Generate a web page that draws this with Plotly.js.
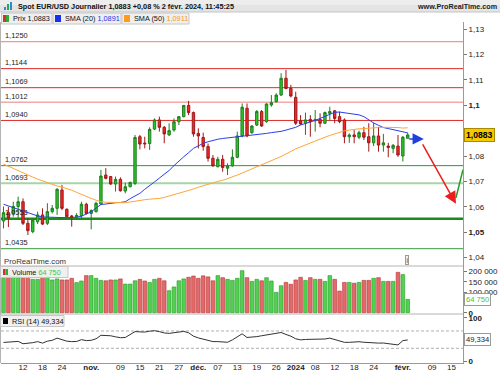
<!DOCTYPE html>
<html><head><meta charset="utf-8">
<script src="https://cdn.plot.ly/plotly-3.0.1.min.js"></script>
<style>html,body{margin:0;padding:0;background:#fff;overflow:hidden}#chart{width:500px;height:375px}</style>
</head><body><div id="chart"></div>
<script>
// ---------- DATA ----------
const dates = [
"2023-10-06","2023-10-09","2023-10-10","2023-10-11","2023-10-12","2023-10-13","2023-10-16","2023-10-17","2023-10-18","2023-10-19",
"2023-10-20","2023-10-23","2023-10-24","2023-10-25","2023-10-26","2023-10-27","2023-10-30","2023-10-31",
"2023-11-01","2023-11-02","2023-11-03","2023-11-06","2023-11-07","2023-11-08","2023-11-09","2023-11-10","2023-11-13","2023-11-14",
"2023-11-15","2023-11-16","2023-11-17","2023-11-20","2023-11-21","2023-11-22","2023-11-23","2023-11-24","2023-11-27","2023-11-28",
"2023-11-29","2023-11-30",
"2023-12-01","2023-12-04","2023-12-05","2023-12-06","2023-12-07","2023-12-08","2023-12-11","2023-12-12","2023-12-13","2023-12-14",
"2023-12-15","2023-12-18","2023-12-19","2023-12-20","2023-12-21","2023-12-22","2023-12-26","2023-12-27","2023-12-28","2023-12-29",
"2024-01-02","2024-01-03","2024-01-04","2024-01-05","2024-01-08","2024-01-09","2024-01-10","2024-01-11","2024-01-12","2024-01-15",
"2024-01-16","2024-01-17","2024-01-18","2024-01-19","2024-01-22","2024-01-23","2024-01-24","2024-01-25","2024-01-26","2024-01-29",
"2024-01-30","2024-01-31","2024-02-01","2024-02-02"];
const futureDates = ["2024-02-05","2024-02-06","2024-02-07","2024-02-08","2024-02-09","2024-02-12","2024-02-13","2024-02-14","2024-02-15","2024-02-16","2024-02-19"];

const open = [
1.0544,1.0577,1.0574,1.0601,1.0620,1.0535,1.0502,1.0541,1.0568,1.0535,
1.0581,1.0594,1.0666,1.0590,1.0564,1.0561,1.0565,1.0610,1.0574,1.0581,
1.0611,1.0725,1.0719,1.0690,1.0708,1.0662,1.0679,1.0692,1.0876,1.0851,
1.0849,1.0906,1.0942,1.0913,1.0883,1.0902,1.0935,1.0955,1.0999,1.0971,
1.0889,1.0873,1.0837,1.0791,1.0758,1.0787,1.0752,1.0761,1.0795,1.0879,
1.0988,1.0892,1.0922,1.0975,1.0935,1.1001,1.1014,1.1040,1.1106,1.1066,
1.1031,1.0938,1.0929,1.0944,1.0939,1.0944,1.0929,1.0968,1.0978,1.0955,
1.0942,1.0876,1.0883,1.0874,1.0892,1.0876,1.0852,1.0879,1.0843,1.0839,
1.0830,1.0839,1.0800,1.0870];
const high = [
1.0601,1.0600,1.0620,1.0640,1.0633,1.0555,1.0555,1.0581,1.0594,1.0614,
1.0607,1.0673,1.0686,1.0594,1.0568,1.0575,1.0620,1.0616,1.0590,1.0620,
1.0745,1.0752,1.0721,1.0719,1.0716,1.0695,1.0699,1.0883,1.0883,1.0876,
1.0913,1.0948,1.0955,1.0918,1.0929,1.0948,1.0957,1.1001,1.1017,1.0975,
1.0909,1.0892,1.0849,1.0804,1.0797,1.0804,1.0771,1.0826,1.0896,1.1007,
1.1007,1.0922,1.0981,1.0981,1.1007,1.1040,1.1047,1.1126,1.1139,1.1080,
1.1053,1.0961,1.0971,1.0961,1.0981,1.0968,1.0975,1.0994,1.0981,1.0975,
1.0948,1.0889,1.0902,1.0900,1.0915,1.0929,1.0931,1.0915,1.0887,1.0852,
1.0847,1.0883,1.0879,1.0892];
const low = [
1.0515,1.0520,1.0561,1.0548,1.0528,1.0489,1.0496,1.0532,1.0528,1.0528,
1.0574,1.0568,1.0587,1.0559,1.0522,1.0548,1.0555,1.0570,1.0511,1.0577,
1.0607,1.0708,1.0686,1.0660,1.0660,1.0653,1.0677,1.0686,1.0826,1.0830,
1.0824,1.0902,1.0896,1.0850,1.0879,1.0896,1.0922,1.0952,1.0961,1.0876,
1.0830,1.0821,1.0778,1.0758,1.0755,1.0738,1.0725,1.0758,1.0791,1.0874,
1.0874,1.0887,1.0918,1.0915,1.0931,1.0994,1.1010,1.1036,1.1063,1.1031,
1.0922,1.0922,1.0883,1.0876,1.0896,1.0913,1.0926,1.0942,1.0929,1.0929,
1.0850,1.0852,1.0850,1.0866,1.0863,1.0817,1.0839,1.0817,1.0817,1.0795,
1.0811,1.0797,1.0778,1.0869];
const close = [
1.0577,1.0556,1.0601,1.0620,1.0535,1.0506,1.0548,1.0568,1.0532,1.0581,
1.0594,1.0669,1.0594,1.0561,1.0561,1.0566,1.0610,1.0574,1.0585,1.0614,
1.0721,1.0712,1.0690,1.0708,1.0663,1.0679,1.0696,1.0873,1.0847,1.0848,
1.0905,1.0942,1.0913,1.0887,1.0900,1.0935,1.0955,1.0999,1.0971,1.0887,
1.0879,1.0837,1.0791,1.0761,1.0787,1.0755,1.0761,1.0795,1.0879,1.0992,
1.0879,1.0918,1.0975,1.0918,1.1005,1.1010,1.1040,1.1106,1.1066,1.1036,
1.0929,1.0926,1.0942,1.0935,1.0944,1.0929,1.0971,1.0975,1.0948,1.0935,
1.0876,1.0883,1.0876,1.0892,1.0874,1.0852,1.0879,1.0843,1.0852,1.0834,
1.0842,1.0804,1.0874,1.0883];
const volume = [
167000,183000,178000,180000,167000,172000,162000,162000,172000,175000,
159000,164000,159000,159000,167000,146000,154000,180000,180000,167000,
157000,155000,159000,159000,164000,139000,139000,155000,162000,154000,
147000,162000,167000,155000,107000,125000,155000,164000,172000,178000,
167000,179000,174000,155000,180000,170000,162000,157000,167000,204000,
170000,152000,162000,155000,170000,154000,99000,131000,147000,138000,
159000,172000,157000,170000,162000,162000,152000,180000,162000,105000,
147000,147000,143000,147000,157000,157000,167000,170000,152000,152000,
152000,196000,185000,64750];
const sma20 = [
1.0610,1.0603,1.0597,1.0590,1.0585,1.0578,1.0571,1.0564,1.0560,1.0559,
1.0557,1.0556,1.0557,1.0557,1.0558,1.0559,1.0563,1.0572,1.0580,1.0595,
1.0609,1.0611,1.0614,1.0616,1.0617,1.0620,1.0632,1.0644,1.0653,1.0669,
1.0685,1.0698,1.0713,1.0727,1.0743,1.0762,1.0781,1.0797,1.0813,1.0830,
1.0840,1.0850,1.0856,1.0862,1.0866,1.0869,1.0871,1.0874,1.0875,1.0877,
1.0878,1.0880,1.0883,1.0886,1.0889,1.0892,1.0894,1.0897,1.0902,1.0907,
1.0913,1.0922,1.0927,1.0932,1.0940,1.0948,1.0956,1.0965,1.0972,1.0973,
1.0970,1.0969,1.0967,1.0962,1.0955,1.0941,1.0930,1.0921,1.0912,1.0908,
1.0904,1.0900,1.0896,1.0891];
const sma50 = [
1.0768,1.0759,1.0750,1.0741,1.0733,1.0725,1.0717,1.0709,1.0702,1.0694,
1.0687,1.0682,1.0678,1.0673,1.0665,1.0657,1.0648,1.0640,1.0633,1.0626,
1.0620,1.0618,1.0617,1.0616,1.0616,1.0616,1.0619,1.0623,1.0627,1.0628,
1.0630,1.0631,1.0633,1.0637,1.0642,1.0647,1.0652,1.0657,1.0663,1.0670,
1.0677,1.0683,1.0690,1.0695,1.0700,1.0704,1.0710,1.0717,1.0725,1.0733,
1.0741,1.0749,1.0757,1.0765,1.0773,1.0781,1.0788,1.0798,1.0808,1.0819,
1.0828,1.0836,1.0844,1.0852,1.0861,1.0867,1.0874,1.0881,1.0888,1.0895,
1.0899,1.0902,1.0905,1.0907,1.0908,1.0910,1.0911,1.0912,1.0913,1.0913,
1.0913,1.0912,1.0910,1.0911];
const rsi = [
43.5,44.5,46,46,40.5,41,43,45.5,42,46.5,
48.5,53.5,50,46.5,45.5,45.8,50,47.8,48.5,52,
60,60,59,56.5,54.5,55,61,68.5,68,67.5,
69.5,70.7,68.5,65.5,64.5,65.5,67.5,69,66,58,
54,51.5,48,45.5,45.5,45.5,44,49.5,57.5,63.5,
55,55.5,57,59,60.8,62.5,64.5,66.5,62,58,
52,49.5,50.5,50.8,50.8,50.8,51.5,53.5,50,47.5,
43.8,43.8,44.8,45.2,44,42.8,41.5,42,42.2,40.8,
40.8,37.8,47.7,49.334];

const levelsRed = [1.1250, 1.1144, 1.1069, 1.1012, 1.0940];
const levelsGreen = [1.0762, 1.0693, 1.0553, 1.0435];
const rsiBands = [70, 30];

const priceTicks = [1.04,1.05,1.06,1.07,1.08,1.09,1.10,1.11,1.12,1.13];
const priceTickText = ["1,04","<b>1,05</b>","1,06","1,07","1,08","1,09","<b>1,1</b>","1,11","1,12","1,13"];
const volTicks = [0,100000,150000,200000];
const volTickText = ["<b>0</b>","100 000","150 000","200 000"];
const rsiTicks = [0,100];
const rsiTickText = ["<b>0</b>","<b>100</b>"];
const dateTicks = ["2023-10-12","2023-10-18","2023-10-24","2023-11-01","2023-11-09","2023-11-15","2023-11-21","2023-11-27",
  "2023-12-01","2023-12-07","2023-12-13","2023-12-19","2023-12-26","2024-01-02","2024-01-08","2024-01-12","2024-01-18",
  "2024-01-24","2024-02-01","2024-02-09","2024-02-15"];
const dateTickText = ["12","18","24","<b>nov.</b>","09","15","21","27","<b>déc.</b>","07","13","19","26","<b>2024</b>",
  "08","12","18","24","<b>févr.</b>","09","15"];

const titleText = "Spot EUR/USD Journalier 1,0883 +0,08 % 2 févr. 2024, 11:45:25";
const siteText = "www.ProRealTime.com";
const watermark = "ProRealTime.com";

// ---------- HELPERS ----------
const W = 500, H = 375, ML = 1, MR = 37, MT = 22, MB = 12;
const PW = W - ML - MR, PH = H - MT - MB;
const xp = px => (px - ML) / PW;
const yp = py => (H - MB - py) / PH;
const fmt = (v, d) => v.toFixed(d).replace('.', ',');
const fmtThousands = v => String(Math.round(v)).replace(/\B(?=(\d{3})+(?!\d))/g, ' ');
const FONT = 'Liberation Sans, Arial, sans-serif';
const last = close.length - 1;

const GREEN = '#2ec42e', GREEN_L = '#1f7f1f', RED = '#ee2a2a', RED_L = '#a01818';
const volColors = close.map((c, i) => c >= open[i] ? '#52d052' : '#e36a6a');
const volLines = close.map((c, i) => c >= open[i] ? '#259a25' : '#b53434');

// ---------- TRACES ----------
const traces = [
  {type:'candlestick', x:dates, open:open, high:high, low:low, close:close, xaxis:'x', yaxis:'y',
   increasing:{line:{color:GREEN_L, width:1}, fillcolor:GREEN},
   decreasing:{line:{color:RED_L, width:1}, fillcolor:RED},
   whiskerwidth:0, hoverinfo:'skip', showlegend:false},
  {type:'scatter', mode:'lines', x:dates, y:sma20, xaxis:'x', yaxis:'y', line:{color:'#2a3fe8', width:1}, hoverinfo:'skip'},
  {type:'scatter', mode:'lines', x:dates, y:sma50, xaxis:'x', yaxis:'y', line:{color:'#ffa53a', width:1}, hoverinfo:'skip'},
  {type:'bar', x:dates, y:volume, xaxis:'x', yaxis:'y2', marker:{color:volColors, line:{color:volLines, width:0.6}}, hoverinfo:'skip'},
  {type:'scatter', mode:'lines', x:dates, y:rsi, xaxis:'x', yaxis:'y3', line:{color:'#333', width:1}, hoverinfo:'skip'}
];

// ---------- SHAPES ----------
const shapes = [];
const redStyles = [{c:'#f27a7a',w:1},{c:'#e02a2a',w:1},{c:'#e02a2a',w:1},{c:'#f27a7a',w:1},{c:'#e02a2a',w:1}];
const greenStyles = [{c:'#2a9a2a',w:1},{c:'#a6d6a6',w:2},{c:'#1a8c1a',w:2.5},{c:'#3a9a3a',w:1}];
levelsRed.forEach((v,k)=>shapes.push({type:'line', xref:'paper', yref:'y', x0:0, x1:1, y0:v, y1:v, layer:'below', line:{color:redStyles[k].c, width:redStyles[k].w}}));
levelsGreen.forEach((v,k)=>shapes.push({type:'line', xref:'paper', yref:'y', x0:0, x1:1, y0:v, y1:v, layer:'below', line:{color:greenStyles[k].c, width:greenStyles[k].w}}));
rsiBands.forEach(v=>shapes.push({type:'line', xref:'paper', yref:'y3', x0:0, x1:1, y0:v, y1:v, layer:'below', line:{color:'#9a9a9a', width:0.8, dash:'3px,2px'}}));
// panel separators & frame
[266, 314].forEach(py=>shapes.push({type:'line', xref:'paper', yref:'paper', x0:xp(0), x1:1, y0:yp(py), y1:yp(py), line:{color:'#b4b4b4', width:1}}));
shapes.push({type:'line', xref:'paper', yref:'paper', x0:xp(0.5), x1:xp(0.5), y0:0, y1:1, line:{color:'#b4b4b4', width:1}});
// header bar
shapes.push({type:'rect', xref:'paper', yref:'paper', x0:xp(0), x1:xp(500), y0:yp(12), y1:yp(0), fillcolor:'#e4e4e4', line:{width:0}});
shapes.push({type:'rect', xref:'paper', yref:'paper', x0:xp(0), x1:xp(500), y0:yp(5), y1:yp(0), fillcolor:'#ededed', line:{width:0}});
shapes.push({type:'line', xref:'paper', yref:'paper', x0:xp(0), x1:xp(500), y0:yp(12), y1:yp(12), line:{color:'#c4c4c4', width:1}});
// header icon
[[4,7,'#2e8bd8'],[7,4,'#2aa84a'],[10,2,'#2e8bd8']].forEach(b=>shapes.push({type:'rect', xref:'paper', yref:'paper', x0:xp(b[0]), x1:xp(b[0]+2), y0:yp(10), y1:yp(b[1]), fillcolor:b[2], line:{width:0}}));
// legend boxes
const boxes = [[1.5,52],[53,121],[122,189]];
boxes.forEach(b=>shapes.push({type:'rect', xref:'paper', yref:'paper', x0:xp(b[0]), x1:xp(b[1]), y0:yp(24), y1:yp(13), fillcolor:'#efefef', line:{color:'#c6c6c6', width:1}}));
// swatches
shapes.push({type:'rect', xref:'paper', yref:'paper', x0:xp(3), x1:xp(6), y0:yp(22), y1:yp(15), fillcolor:'#d83030', line:{width:0}});
shapes.push({type:'rect', xref:'paper', yref:'paper', x0:xp(6), x1:xp(9), y0:yp(22), y1:yp(15), fillcolor:'#2fae2f', line:{width:0}});
shapes.push({type:'rect', xref:'paper', yref:'paper', x0:xp(55), x1:xp(61), y0:yp(22), y1:yp(15), fillcolor:'#1530f0', line:{width:0}});
shapes.push({type:'rect', xref:'paper', yref:'paper', x0:xp(124), x1:xp(130), y0:yp(22), y1:yp(15), fillcolor:'#ff9a1a', line:{width:0}});
// volume legend box
shapes.push({type:'rect', xref:'paper', yref:'paper', x0:xp(0.5), x1:xp(68), y0:yp(277.5), y1:yp(266.5), fillcolor:'rgba(238,238,238,0.9)', line:{color:'#c6c6c6', width:1}});
shapes.push({type:'rect', xref:'paper', yref:'paper', x0:xp(3), x1:xp(5.5), y0:yp(275), y1:yp(269), fillcolor:'#d83030', line:{width:0}});
shapes.push({type:'rect', xref:'paper', yref:'paper', x0:xp(5.5), x1:xp(8), y0:yp(275), y1:yp(269), fillcolor:'#2fae2f', line:{width:0}});
// rsi legend box
shapes.push({type:'rect', xref:'paper', yref:'paper', x0:xp(0.5), x1:xp(64), y0:yp(326.5), y1:yp(315.5), fillcolor:'rgba(238,238,238,0.9)', line:{color:'#c6c6c6', width:1}});
shapes.push({type:'rect', xref:'paper', yref:'paper', x0:xp(3), x1:xp(8), y0:yp(324), y1:yp(318), fillcolor:'#000', line:{width:0}});
// green trend line drawing
shapes.push({type:'line', xref:'x', yref:'y', x0:92.9, y0:1.0635, x1:94.35, y1:1.0746, line:{color:'#2a9a2a', width:1.5}});

// ---------- ANNOTATIONS ----------
const ann = [];
const txt = (px, py, text, size, color, anchor, extra) => Object.assign({xref:'paper', yref:'paper', x:xp(px), y:yp(py), text:text, showarrow:false,
  xanchor:anchor||'left', yanchor:'middle', font:{family:FONT, size:size, color:color||'#111'}}, extra||{});
ann.push(txt(16, 6.2, '<b>'+titleText+'</b>', 7.3, '#111'));
ann.push(txt(499, 6.2, '<b>'+siteText+'</b>', 7.2, '#222', 'right'));
ann.push(txt(10.5, 18.7, 'Prix '+fmt(close[last],4), 7.3, '#111'));
ann.push(txt(63, 18.7, 'SMA (20) <span style="color:#1f2ff0">'+fmt(sma20[last],4)+'</span>', 7.3, '#111'));
ann.push(txt(132, 18.7, 'SMA (50) <span style="color:#f59b20">'+fmt(sma50[last],4)+'</span>', 7.3, '#111'));
// level labels
levelsRed.concat(levelsGreen).forEach(v=>ann.push({xref:'paper', yref:'y', x:xp(2.5), y:v, text:fmt(v,4), showarrow:false,
  xanchor:'left', yanchor:'bottom', yshift:-0.5, font:{family:FONT, size:7.4, color:'#1a1a1a'}}));
ann.push(txt(2, 261.5, watermark, 7.8, '#333'));
ann.push(txt(407, 259.5, 'i', 6.5, '#333', 'center', {bordercolor:'#9a9a9a', borderwidth:1, borderpad:0.5, bgcolor:'#f2f2f2'}));
ann.push(txt(10, 272, 'Volume <span style="color:#3cc83c">'+fmtThousands(volume[last])+'</span>', 7.3, '#111'));
ann.push(txt(10, 321, 'RSI (14) '+fmt(rsi[last],3), 7.3, '#111'));
// value tags on right axis
ann.push({xref:'paper', yref:'y', x:1, y:close[last], xanchor:'left', yanchor:'middle', xshift:0.5, showarrow:false,
  text:'<b>'+fmt(close[last],4)+'</b>', bgcolor:'#f6c800', bordercolor:'#a88a00', borderwidth:1, borderpad:1,
  font:{family:FONT, size:8.6, color:'#000'}});
ann.push({xref:'paper', yref:'y2', x:1, y:volume[last], xanchor:'left', yanchor:'middle', xshift:0.5, showarrow:false,
  text:fmtThousands(volume[last]), bgcolor:'#fff', bordercolor:'#9a9a9a', borderwidth:1, borderpad:1,
  font:{family:FONT, size:7.6, color:'#3cc83c'}});
ann.push({xref:'paper', yref:'y3', x:1, y:rsi[last], xanchor:'left', yanchor:'middle', xshift:0.5, showarrow:false,
  text:fmt(rsi[last],3), bgcolor:'#fff', bordercolor:'#9a9a9a', borderwidth:1, borderpad:1,
  font:{family:FONT, size:7.6, color:'#222'}});
// drawn arrows
ann.push({xref:'x', yref:'y', axref:'x', ayref:'y', x:86.3, y:1.0867, ax:83.0, ay:1.0867, text:'', showarrow:true,
  arrowhead:2, arrowsize:1.5, arrowwidth:1.5, arrowcolor:'#1f3fe0'});
ann.push({xref:'x', yref:'y', axref:'x', ayref:'y', x:92.9, y:1.0612, ax:85.9, ay:1.0852, text:'', showarrow:true,
  arrowhead:2, arrowsize:1.6, arrowwidth:1.5, arrowcolor:'#ee1c1c'});

// ---------- LAYOUT ----------
const axFont = {family:FONT, size:8, color:'#222'};
const yCommon = {side:'right', anchor:'x', showgrid:false, zeroline:false, showline:true, linecolor:'#9a9a9a', linewidth:1,
  ticks:'outside', ticklen:3, tickcolor:'#777', tickfont:axFont, fixedrange:true, automargin:false};
const layout = {
  width:W, height:H, margin:{l:ML, r:MR, t:MT, b:MB, pad:0},
  paper_bgcolor:'#fff', plot_bgcolor:'#fff', showlegend:false, hovermode:false, separators:', ',
  font:{family:FONT, size:8, color:'#222'},
  xaxis:{type:'category', categoryorder:'array', categoryarray:dates.concat(futureDates), range:[-0.52, 94.35],
    anchor:'y3', tickvals:dateTicks, ticktext:dateTickText, tickangle:0, tickfont:axFont, ticks:'', ticklabelstandoff:-4,
    showline:true, linecolor:'#9a9a9a', showgrid:false, zeroline:false, fixedrange:true, automargin:false, rangeslider:{visible:false}},
  yaxis:Object.assign({}, yCommon, {domain:[yp(266), 1], range:[1.03669, 1.13276], tickvals:priceTicks, ticktext:priceTickText}),
  yaxis2:Object.assign({}, yCommon, {domain:[yp(314), yp(266)], range:[-6300, 226700], tickvals:volTicks, ticktext:volTickText}),
  yaxis3:Object.assign({}, yCommon, {domain:[0, yp(314)], range:[-3.9, 109.2], tickvals:rsiTicks, ticktext:rsiTickText}),
  bargap:0.25,
  shapes:shapes, annotations:ann
};
Plotly.newPlot('chart', traces, layout, {staticPlot:true, displayModeBar:false});
</script></body></html>
